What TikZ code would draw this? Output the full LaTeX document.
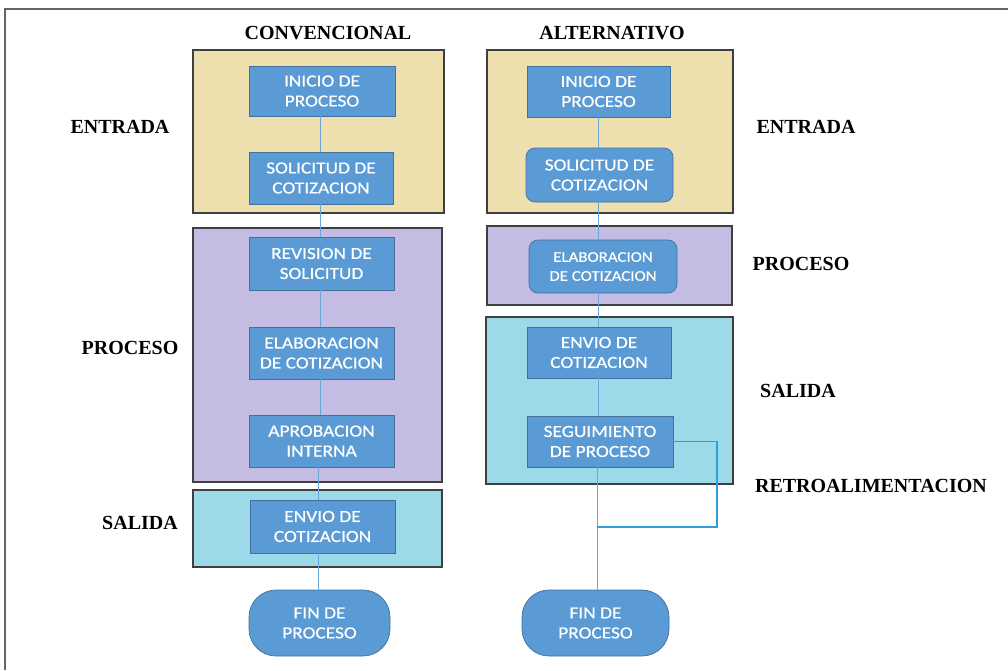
\documentclass[tikz,border=0pt]{standalone}
\usepackage{fontspec}
\setmainfont{Liberation Serif}
\newfontfamily\boxfont[FakeStretch=1.14,FakeBold=0.4]{Carlito}
\definecolor{yel}{HTML}{EDE0AE}
\definecolor{pur}{HTML}{C5BCE3}
\definecolor{cya}{HTML}{9DDAE9}
\definecolor{blu}{HTML}{5B9BD5}
\definecolor{bld}{HTML}{41719C}
\definecolor{lnk}{HTML}{6AA6DA}
\definecolor{fbk}{HTML}{2E9FDB}
\definecolor{frm}{HTML}{3F3F3F}
\tikzset{
  group/.style={draw=frm, line width=1.3pt},
  blk/.style={fill=blu, draw=bld, line width=0.7pt, text=white, align=center,
    font=\boxfont\fontsize{17}{20}\selectfont, inner sep=0pt},
  rblk/.style={blk, rounded corners=9pt},
  small/.style={font=\boxfont\fontsize{14.8}{19}\selectfont},
  stad/.style={blk, rounded corners=27pt},
  lbl/.style={font=\bfseries\fontsize{20}{22}\selectfont, inner sep=0pt},
  link/.style={draw=lnk, line width=1pt},
}
\begin{document}
\begin{tikzpicture}[x=1pt,y=-1pt]
\useasboundingbox (0,0) rectangle (1008,670);
\fill[white] (0,0) rectangle (1008,670);
\draw[frm!80, line width=1.3pt] (5,670) -- (5,9) -- (1008,9);

% group boxes
\draw[group, fill=yel] (193,50) rectangle (444,213);
\draw[group, fill=pur] (193,228) rectangle (442,482);
\draw[group, fill=cya] (193,490) rectangle (442,567);
\draw[group, fill=yel] (487,50) rectangle (733,213);
\draw[group, fill=pur] (487,226) rectangle (732,305);
\draw[group, fill=cya] (486,317) rectangle (733,484);

% headings and labels
\node[lbl] (hc) at (328,33) {CONVENCIONAL};
\node[lbl] (ha) at (612,33) {ALTERNATIVO};
\node[lbl] (le) at (120,127) {ENTRADA};
\node[lbl] (lp) at (130,348) {PROCESO};
\node[lbl] (ls) at (140,523) {SALIDA};
\node[lbl] (re) at (806,127) {ENTRADA};
\node[lbl] (rp) at (801,264) {PROCESO};
\node[lbl] (rs) at (798,391) {SALIDA};
\node[lbl] (rr) at (871,486) {RETROALIMENTACION};

% left column
\node[blk, minimum width=146pt, minimum height=50pt] (ini1) at (322,91) {INICIO DE\\PROCESO};
\node[blk, minimum width=144pt, minimum height=52pt] (sol1) at (321,178) {SOLICITUD DE\\COTIZACION};
\node[blk, minimum width=145pt, minimum height=53pt] (rev1) at (321.5,263.5) {REVISION DE\\SOLICITUD};
\node[blk, minimum width=145pt, minimum height=52pt] (ela1) at (321.5,353) {ELABORACION\\DE COTIZACION};
\node[blk, minimum width=145pt, minimum height=52pt] (apr1) at (321.5,441) {APROBACION\\INTERNA};
\node[blk, minimum width=145pt, minimum height=53pt] (env1) at (322.5,526.5) {ENVIO DE\\COTIZACION};
\node[stad, minimum width=141pt, minimum height=66pt] (fin1) at (319.5,623) {FIN DE\\PROCESO};

% right column
\node[blk, minimum width=143pt, minimum height=51pt] (ini2) at (598.5,91.5) {INICIO DE\\PROCESO};
\node[rblk, minimum width=147pt, minimum height=54pt] (sol2) at (599.5,175) {SOLICITUD DE\\COTIZACION};
\node[rblk, small, minimum width=148pt, minimum height=53pt] (ela2) at (603,266.5) {ELABORACION\\DE COTIZACION};
\node[blk, minimum width=144pt, minimum height=51pt] (env2) at (599,352.5) {ENVIO DE\\COTIZACION};
\node[blk, minimum width=146pt, minimum height=51pt] (seg2) at (600,441.5) {SEGUIMIENTO\\DE PROCESO};
\node[stad, minimum width=147pt, minimum height=66pt] (fin2) at (595.5,623) {FIN DE\\PROCESO};

% connectors left
\draw[link] (ini1.south -| 320,0) -- (sol1.north -| 320,0);
\draw[link] (sol1.south -| 320,0) -- (rev1.north -| 320,0);
\draw[link] (rev1.south -| 320,0) -- (ela1.north -| 320,0);
\draw[link] (ela1.south -| 320,0) -- (apr1.north -| 320,0);
\draw[link] (apr1.south -| 318,0) -- (env1.north -| 318,0);
\draw[link] (env1.south -| 318,0) -- (fin1.north -| 318,0);

% connectors right
\draw[link] (ini2.south -| 598,0) -- (sol2.north -| 598,0);
\draw[link] (sol2.south -| 598,0) -- (ela2.north -| 598,0);
\draw[link] (ela2.south -| 598,0) -- (env2.north -| 598,0);
\draw[link] (env2.south -| 598,0) -- (seg2.north -| 598,0);
\draw[link] (seg2.south -| 597,0) -- (fin2.north -| 597,0);
\coordinate (fb) at (597,527);
\draw[draw=fbk, line width=1.2pt] (seg2.east) -- (717,441.5) -- (717,527) -- (fb);
\end{tikzpicture}
\end{document}
